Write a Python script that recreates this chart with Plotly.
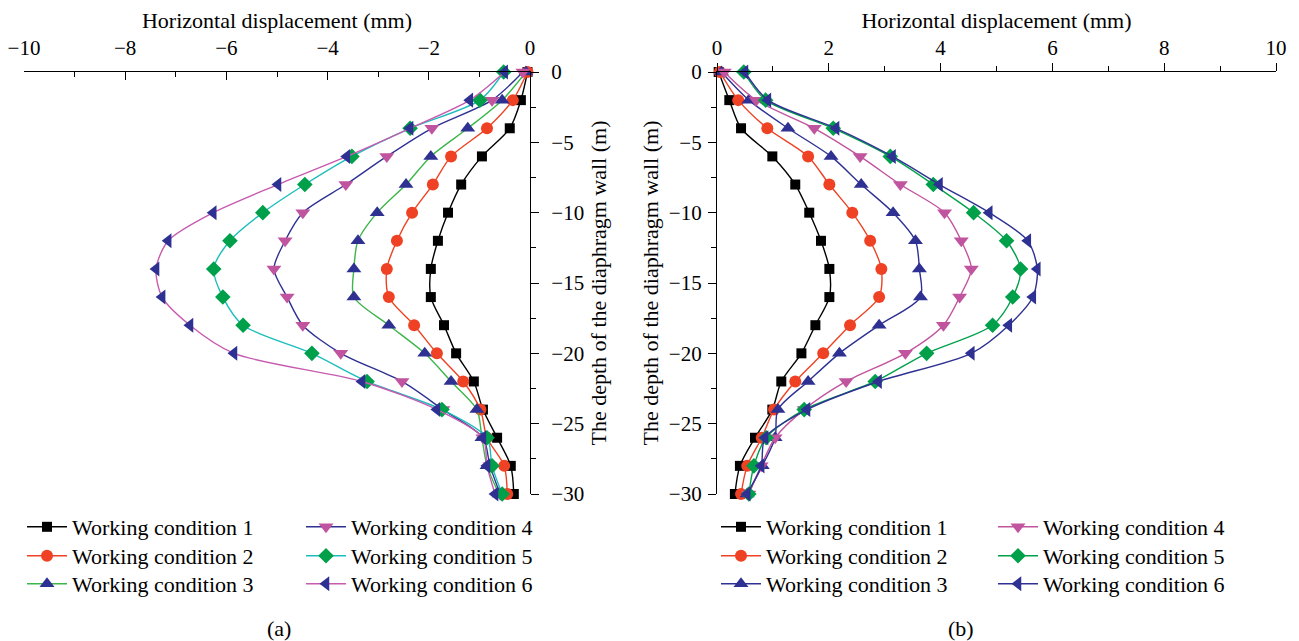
import plotly.graph_objects as go

# ---------------- data ----------------
depth = [0, -2, -4, -6, -8, -10, -12, -14, -16, -18, -20, -22, -24, -26, -28, -30]

names = ["Working condition 1", "Working condition 2", "Working condition 3",
         "Working condition 4", "Working condition 5", "Working condition 6"]

# panel (a) horizontal displacement (mm)
a1 = [-0.05, -0.18, -0.40, -0.95, -1.36, -1.62, -1.82, -1.96, -1.96, -1.70, -1.46, -1.11, -0.93, -0.65, -0.38, -0.32]
a2 = [-0.05, -0.34, -0.85, -1.56, -1.92, -2.33, -2.63, -2.83, -2.79, -2.29, -1.84, -1.32, -0.98, -0.85, -0.51, -0.45]
a3 = [-0.08, -0.55, -1.23, -1.96, -2.45, -3.02, -3.40, -3.48, -3.48, -2.79, -2.08, -1.56, -1.05, -0.95, -0.85, -0.61]
a4 = [-0.14, -0.75, -1.94, -2.83, -3.64, -4.49, -4.84, -5.06, -4.80, -4.49, -3.74, -2.53, -1.72, -0.93, -0.79, -0.59]
a5 = [-0.52, -0.99, -2.37, -3.52, -4.45, -5.28, -5.93, -6.25, -6.07, -5.67, -4.31, -3.22, -1.74, -0.85, -0.75, -0.55]
a6 = [-0.50, -1.19, -2.37, -3.62, -4.98, -6.26, -7.15, -7.39, -7.27, -6.72, -5.85, -3.32, -1.84, -0.93, -0.85, -0.69]

# panel (b) horizontal displacement (mm)
b1 = [0.03, 0.22, 0.43, 0.99, 1.40, 1.65, 1.86, 2.01, 2.01, 1.76, 1.51, 1.15, 0.99, 0.68, 0.41, 0.32]
b2 = [0.05, 0.38, 0.90, 1.63, 2.01, 2.42, 2.74, 2.94, 2.90, 2.38, 1.90, 1.40, 1.02, 0.80, 0.54, 0.43]
b3 = [0.08, 0.57, 1.27, 2.04, 2.58, 3.15, 3.55, 3.62, 3.64, 2.90, 2.19, 1.63, 1.09, 1.04, 0.81, 0.54]
b4 = [0.13, 0.70, 1.74, 2.56, 3.28, 4.07, 4.37, 4.55, 4.34, 4.05, 3.37, 2.31, 1.56, 1.04, 0.79, 0.57]
b5 = [0.48, 0.87, 2.08, 3.10, 3.87, 4.59, 5.18, 5.43, 5.29, 4.93, 3.75, 2.83, 1.56, 0.88, 0.66, 0.57]
b6 = [0.50, 0.91, 2.13, 3.14, 3.98, 4.87, 5.56, 5.73, 5.65, 5.22, 4.55, 2.89, 1.61, 0.86, 0.79, 0.54]

x_title = "Horizontal displacement (mm)"
y_title = "The depth of the diaphragm wall (m)"

# ---------------- styles ----------------
BLACK = "#000000"
RED = "#EF4123"
NAVY = "#2E3192"
PINK = "#C1549E"
GREEN = "#00A04B"
CYAN = "#1DBDBD"
LGREEN = "#3CB54A"
LPINK = "#C75BB0"

symbols = ["square", "circle", "triangle-up", "triangle-down", "diamond", "triangle-left"]
msizes = [10, 12, 13, 13, 12, 13]
mcolors = [BLACK, RED, NAVY, PINK, GREEN, NAVY]
lcolors_a = [BLACK, RED, LGREEN, NAVY, CYAN, LPINK]
lcolors_b = [BLACK, RED, NAVY, PINK, GREEN, NAVY]

FONT = "Liberation Serif"
FS_TICK = 21
FS_LEG = 22
FS_TITLE = 22

# page body has an 8px margin; the figure is sized to fit the window
OFF = 8
W, H = 1291, 633

def px(x):
    return (x - OFF) / W

def py(y):
    return 1 - (y - OFF) / H

fig = go.Figure()

series_a = [a1, a2, a3, a4, a5, a6]
series_b = [b1, b2, b3, b4, b5, b6]

# one legend per entry, so each row can be placed like the reference
leg_x_a = [22, 22, 22, 301, 301, 301]
leg_x_b = [716, 716, 716, 993, 993, 993]
leg_top = [506, 535, 563, 506, 535, 563]

for i, vals in enumerate(series_a):
    fig.add_trace(go.Scatter(
        x=vals, y=depth, mode="lines+markers", name=names[i], showlegend=True,
        line=dict(color=lcolors_a[i], width=1.4, shape="spline", smoothing=0.8),
        marker=dict(symbol=symbols[i], size=msizes[i], color=mcolors[i], line=dict(width=0)),
        xaxis="x", yaxis="y", legend="legend" if i == 0 else f"legend{i + 1}", cliponaxis=False))

for i, vals in enumerate(series_b):
    fig.add_trace(go.Scatter(
        x=vals, y=depth, mode="lines+markers", name=names[i], showlegend=True,
        line=dict(color=lcolors_b[i], width=1.4, shape="spline", smoothing=0.8),
        marker=dict(symbol=symbols[i], size=msizes[i], color=mcolors[i], line=dict(width=0)),
        xaxis="x2", yaxis="y2", legend=f"legend{i + 7}", cliponaxis=False))

tickfont = dict(family=FONT, size=FS_TICK, color="#000")
titlefont = dict(family=FONT, size=FS_TITLE, color="#000")
common = dict(showgrid=False, zeroline=False, showline=True, linecolor="#000", linewidth=1.2,
              tickcolor="#000", tickwidth=1.2, ticklen=8, tickfont=tickfont, automargin=False,
              ticklabeloverflow="allow")

ydom = [py(494), py(72)]

fig.update_layout(
    width=W, height=H,
    margin=dict(l=0, r=0, t=0, b=0),
    showlegend=True,
    paper_bgcolor="white", plot_bgcolor="white",
    font=dict(family=FONT, size=FS_TICK, color="#000"),
    xaxis=dict(domain=[px(24), px(530)], range=[-10, 0], side="top", anchor="y",
               dtick=2, tick0=0, ticks="inside", ticklabelstandoff=8,
               minor=dict(dtick=1, ticks="inside", ticklen=5, tickcolor="#000", tickwidth=1.2),
               title=dict(text=x_title, font=titlefont, standoff=9), **common),
    yaxis=dict(domain=ydom, range=[-30, 0], side="right", anchor="x",
               dtick=5, tick0=0, ticks="outside", ticklabelstandoff=8,
               minor=dict(dtick=2.5, ticks="outside", ticklen=5, tickcolor="#000", tickwidth=1.2),
               title=dict(text=y_title, font=titlefont, standoff=7), **common),
    xaxis2=dict(domain=[px(717), px(1276)], range=[0, 10], side="top", anchor="y2",
                dtick=2, tick0=0, ticks="outside", ticklabelstandoff=0,
                minor=dict(dtick=1, ticks="outside", ticklen=5, tickcolor="#000", tickwidth=1.2),
                title=dict(text=x_title, font=titlefont, standoff=9), **common),
    yaxis2=dict(domain=ydom, range=[-30, 0], side="left", anchor="x2",
                dtick=5, tick0=0, ticks="outside", ticklabelstandoff=2,
                minor=dict(dtick=2.5, ticks="outside", ticklen=5, tickcolor="#000", tickwidth=1.2),
                title=dict(text=y_title, font=titlefont, standoff=4), **common),
)

legfont = dict(family=FONT, size=FS_LEG, color="#000")
legcommon = dict(orientation="v", xanchor="left", yanchor="top", font=legfont, itemwidth=40,
                 bgcolor="rgba(0,0,0,0)", tracegroupgap=0, itemclick=False, itemdoubleclick=False,
                 visible=True)
legends = {}
for i in range(6):
    key = "legend" if i == 0 else f"legend{i + 1}"
    legends[key] = dict(x=px(leg_x_a[i]), y=py(leg_top[i]), **legcommon)
    legends[f"legend{i + 7}"] = dict(x=px(leg_x_b[i]), y=py(leg_top[i]), **legcommon)
fig.update_layout(**legends)

fig.add_annotation(text="(a)", x=px(279), y=py(628), xref="paper", yref="paper",
                   xanchor="center", yanchor="middle",
                   showarrow=False, font=dict(family=FONT, size=FS_LEG, color="#000"))
fig.add_annotation(text="(b)", x=px(961), y=py(628), xref="paper", yref="paper",
                   xanchor="center", yanchor="middle",
                   showarrow=False, font=dict(family=FONT, size=FS_LEG, color="#000"))

fig.write_html("out.html")
